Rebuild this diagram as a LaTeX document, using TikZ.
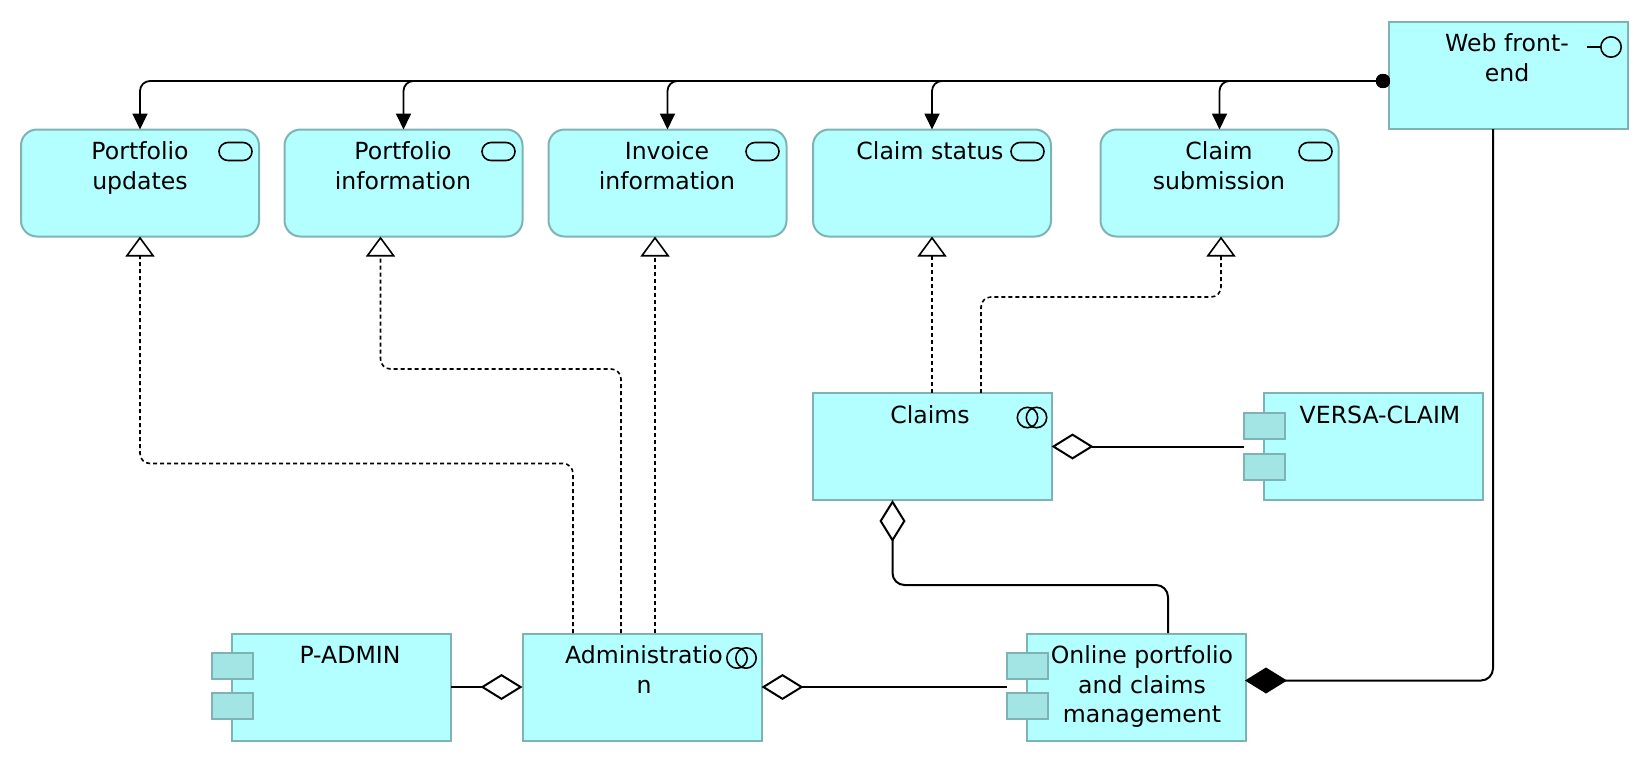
\documentclass[tikz,border=0pt]{standalone}
\usepackage{fontspec}
\setmainfont{DejaVu Sans}
\usetikzlibrary{arrows.meta}
\definecolor{boxfill}{HTML}{B3FFFF}
\definecolor{boxline}{HTML}{7FB3B3}
\definecolor{tabfill}{HTML}{A3E5E5}
\begin{document}
\begin{tikzpicture}[x=0.5pt, y=-0.5pt,
	every node/.style={outer sep=0pt, inner sep=0pt},
	block/.style={rectangle, draw=boxline, fill=boxfill, line width=1pt, minimum width=109.5pt, minimum height=53.5pt},
	service/.style={block, rounded corners=8pt, minimum width=119pt},
	wide/.style={block, minimum width=119.5pt},
	tabbox/.style={rectangle, draw=boxline, fill=tabfill, line width=1pt, minimum width=20.5pt, minimum height=13pt},
	boxtext/.style={anchor=north, align=center, font=\fontsize{11.8pt}{14.75pt}\selectfont},
	pill/.style={rectangle, draw=black, line width=0.8pt, rounded corners=4.5pt, minimum width=16.5pt, minimum height=9pt},
	ring/.style={circle, draw=black, line width=0.8pt, minimum size=10.2pt},
	served/.style={draw=black, line width=0.9pt, rounded corners=5pt, {Circle[length=7pt]}-{Triangle[length=8pt, width=7.5pt]}},
	realize/.style={draw=black, line width=0.8pt, rounded corners=5pt, dash pattern=on 2pt off 1.5pt, -{Triangle[open, fill=white, length=10pt, width=14.5pt]}},
	aggr/.style={draw=black, line width=1pt, rounded corners=6pt, {Diamond[open, fill=white, length=21pt, width=13pt]}-},
	compo/.style={draw=black, line width=1pt, rounded corners=6pt, {Diamond[length=21pt, width=13pt]}-}]
	\useasboundingbox (0,0) rectangle (1648,762);
	\node[service] (updates) at (140,183){};
	\node[service] (portinfo) at (403.5,183){};
	\node[service] (invoice) at (667.5,183){};
	\node[service] (status) at (932,183){};
	\node[service] (submit) at (1219.5,183){};
	\node[wide] (web) at (1508.5,75){};
	\node[wide] (claims) at (932,446.5){};
	\node[block] (versa) at (1373.5,446.5){};
	\node[block] (padmin) at (341.5,687){};
	\node[wide] (admin) at (642,687){};
	\node[block] (online) at (1136,687){};

	\node[tabbox] (versatop) at (1264.5,426){};
	\node[tabbox] (versalow) at (1264.5,466.5){};
	\node[tabbox] (padmintop) at (232.5,666){};
	\node[tabbox] (padminlow) at (232.5,706){};
	\node[tabbox] (onlinetop) at (1027.5,666){};
	\node[tabbox] (onlinelow) at (1027.5,706){};

	\node[boxtext] (updatestext) at (140,142) {Portfolio\\updates};
	\node[boxtext] (portinfotext) at (403,142) {Portfolio\\information};
	\node[boxtext] (invoicetext) at (667,142) {Invoice\\information};
	\node[boxtext] (statustext) at (930,142) {Claim status};
	\node[boxtext] (submittext) at (1219,142) {Claim\\submission};
	\node[boxtext] (webtext) at (1507,34) {Web front-\\end};
	\node[boxtext] (claimstext) at (930,406) {Claims};
	\node[boxtext] (versatext) at (1380,406) {VERSA-CLAIM};
	\node[boxtext] (padmintext) at (350,646) {P-ADMIN};
	\node[boxtext] (admintext) at (644,646) {Administratio\\n};
	\node[boxtext] (onlinetext) at (1142,646) {Online portfolio\\and claims\\management};

	\node[pill] (updatespill) at (235.5,151.5){};
	\node[pill] (portinfopill) at (498.5,151.5){};
	\node[pill] (invoicepill) at (762.5,151.5){};
	\node[pill] (statuspill) at (1027.5,151.5){};
	\node[pill] (submitpill) at (1315.5,151.5){};
	\node[ring] (claimsringa) at (1027.5,417.5){};
	\node[ring] (claimsringb) at (1036.5,417.5){};
	\node[ring] (adminringa) at (737,658){};
	\node[ring] (adminringb) at (746,658){};
	\node[ring] (webring) at (1611,47){};
	\coordinate (webstub) at (1587,47);
	\draw[line width=0.8pt] (webstub) -- (webring);

	\coordinate (webdot) at (1390,81);
	\coordinate (webfoot) at (1493,129);
	\coordinate (onlineright) at (1245,680.5);
	\coordinate (onlinefoot) at (1168,633);
	\coordinate (claimsfoot) at (892.5,500);
	\coordinate (claimsleg) at (981,393);
	\coordinate (adminlega) at (573,633);
	\coordinate (adminlegb) at (621,633);
	\coordinate (adminlegc) at (655,633);
	\coordinate (portinfofoot) at (380.5,236.5);
	\coordinate (invoicefoot) at (655,236.5);

	\draw[served] (webdot) -| (updates.north);
	\draw[served] (webdot) -| (portinfo.north);
	\draw[served] (webdot) -| (invoice.north);
	\draw[served] (webdot) -| (status.north);
	\draw[served] (webdot) -| (submit.north);

	\draw[realize] (adminlega) |- (140,463.5) -- (updates.south);
	\draw[realize] (adminlegb) |- (380.5,369) -- (portinfofoot);
	\draw[realize] (adminlegc) -- (invoicefoot);
	\draw[realize] (claims.north) -- (status.south);
	\draw[realize] (claimsleg) |- (1221,297) -- (1221,236.5);

	\draw[aggr] (claims.east) -- (claims.east -| versatop.west);
	\draw[aggr] (claimsfoot) |- (1168,585) -- (onlinefoot);
	\draw[aggr] (admin.west) -- (padmin.east);
	\draw[aggr] (admin.east) -- (admin.east -| onlinetop.west);
	\draw[compo] (onlineright) -| (webfoot);
\end{tikzpicture}
\end{document}
